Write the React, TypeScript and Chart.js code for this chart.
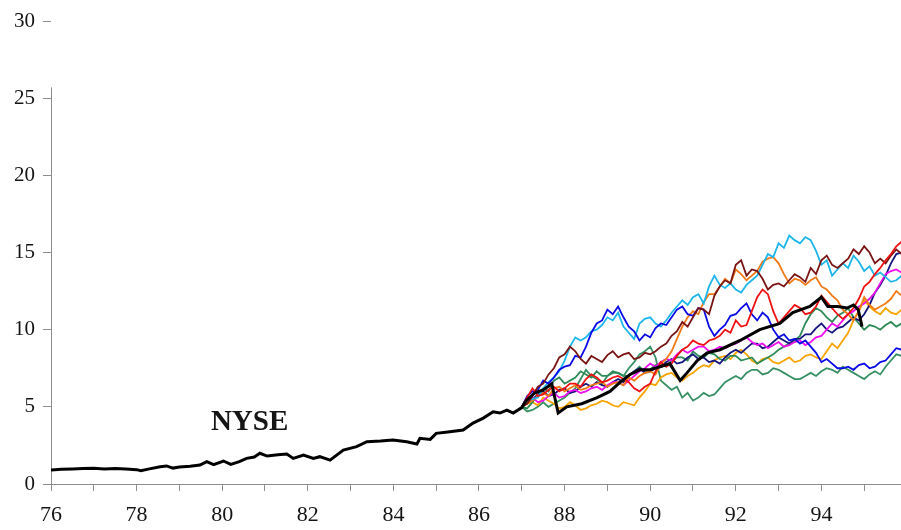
import { useEffect, useRef } from 'react';
import { Chart, registerables } from 'chart.js';

Chart.register(...registerables);

// NYSE index path: [year, value]
const NYSE: [number, number][] = [
  [76.0, 0.9], [76.25, 0.95], [76.5, 0.97], [76.75, 1.0], [77.0, 1.02], [77.25, 0.98], [77.5, 1.0], [77.75, 0.97],
  [78.0, 0.93], [78.1, 0.86], [78.3, 0.98], [78.55, 1.12], [78.7, 1.17], [78.85, 1.03], [79.0, 1.1], [79.25, 1.15],
  [79.48, 1.23], [79.64, 1.45], [79.8, 1.25], [80.03, 1.49], [80.2, 1.27], [80.4, 1.45], [80.57, 1.66], [80.75, 1.75],
  [80.88, 1.99], [81.05, 1.81], [81.3, 1.9], [81.51, 1.94], [81.66, 1.66], [81.9, 1.88], [82.13, 1.66], [82.28, 1.77],
  [82.52, 1.55], [82.83, 2.2], [83.14, 2.42], [83.38, 2.74], [83.7, 2.78], [83.99, 2.85], [84.31, 2.74], [84.55, 2.59],
  [84.62, 2.96], [84.86, 2.89], [85.0, 3.28], [85.32, 3.39], [85.63, 3.5], [85.86, 3.95], [86.1, 4.27], [86.33, 4.68],
  [86.49, 4.6], [86.65, 4.79], [86.8, 4.6], [87.0, 4.95], [87.1, 5.4], [87.3, 5.9], [87.5, 6.1], [87.7, 6.5],
  [87.85, 4.6], [88.05, 5.0], [88.4, 5.2], [88.76, 5.6], [89.06, 6.0], [89.3, 6.6], [89.53, 7.1], [89.76, 7.4],
  [90.0, 7.4], [90.23, 7.6], [90.46, 7.8], [90.7, 6.7], [90.86, 7.2], [91.1, 8.0], [91.33, 8.5], [91.63, 8.7],
  [92.1, 9.3], [92.56, 10.0], [93.03, 10.4], [93.33, 11.1], [93.73, 11.5], [94.0, 12.1], [94.15, 11.5], [94.38, 11.5],
  [94.6, 11.4], [94.75, 11.6], [94.86, 11.3], [94.95, 10.2],
];

// Simulated paths share this year grid (1/8-year steps)
const SIM_YEARS = [
  87, 87.125, 87.25, 87.375, 87.5, 87.625, 87.75, 87.875,
  88, 88.125, 88.25, 88.375, 88.5, 88.625, 88.75, 88.875,
  89, 89.125, 89.25, 89.375, 89.5, 89.625, 89.75, 89.875,
  90, 90.125, 90.25, 90.375, 90.5, 90.625, 90.75, 90.875,
  91, 91.125, 91.25, 91.375, 91.5, 91.625, 91.75, 91.875,
  92, 92.125, 92.25, 92.375, 92.5, 92.625, 92.75, 92.875,
  93, 93.125, 93.25, 93.375, 93.5, 93.625, 93.75, 93.875,
  94, 94.125, 94.25, 94.375, 94.5, 94.625, 94.75, 94.875,
  95, 95.125, 95.25, 95.375, 95.5, 95.625, 95.75, 95.875,
  96,
];

const SIM_BLUE = [
  5.0, 5.7, 6.0, 6.1, 6.7, 6.5, 6.9, 7.4, 7.6, 7.7, 8.3, 8.2, 8.9, 9.8, 10.4, 10.6,
  11.3, 11.0, 11.5, 10.8, 10.2, 9.9, 9.3, 9.7, 9.5, 10.1, 10.4, 10.3, 10.8, 11.3, 11.5, 11.0,
  10.9, 11.4, 11.3, 10.2, 9.6, 10.0, 10.3, 10.9, 11.0, 11.4, 11.7, 11.0, 10.6, 11.1, 10.8, 10.0,
  9.5, 9.7, 9.3, 9.4, 9.1, 9.3, 8.9, 8.5, 7.9, 8.1, 7.8, 7.5, 7.5, 7.6, 7.4, 7.7,
  7.8, 7.5, 7.6, 7.9, 8.0, 8.4, 8.8, 8.7, 9.0,
];
const SIM_CYAN = [
  5.0, 5.4, 5.5, 5.6, 6.2, 6.6, 6.9, 7.3, 8.0, 8.9, 9.5, 9.3, 9.5, 9.9, 10.0, 10.3,
  10.8, 10.6, 11.1, 10.2, 9.8, 9.4, 10.4, 10.7, 10.8, 10.4, 10.2, 10.6, 11.1, 11.5, 11.9, 11.6,
  12.1, 12.3, 11.7, 12.8, 13.5, 12.9, 12.7, 13.0, 12.6, 12.4, 12.9, 13.2, 13.5, 14.2, 14.9, 14.7,
  15.6, 15.3, 16.1, 15.8, 15.6, 16.0, 15.8, 15.1, 14.2, 14.5, 13.5, 13.9, 14.3, 14.0, 14.8, 14.4,
  13.8, 14.1, 13.5, 13.7, 13.4, 13.1, 13.2, 13.5, 13.3,
];
const SIM_MAROON = [
  5.0, 5.2, 5.7, 6.3, 6.5, 7.1, 7.5, 8.2, 8.4, 8.9, 8.6, 8.1, 7.8, 8.3, 8.1, 7.9,
  8.35, 8.6, 8.2, 8.4, 8.5, 8.1, 8.2, 8.5, 8.4, 8.6, 8.9, 9.1, 9.6, 9.9, 10.5, 10.2,
  10.8, 11.4, 11.3, 11.0, 12.2, 12.8, 13.2, 13.0, 14.2, 14.5, 13.5, 13.9, 13.8, 13.3, 12.6, 12.9,
  13.0, 12.8, 13.2, 13.6, 13.4, 13.1, 14.0, 13.6, 14.5, 14.8, 14.2, 14.0, 14.3, 14.6, 15.2, 14.9,
  15.4, 15.0, 14.3, 14.6, 14.3, 14.8, 15.2, 14.9, 15.6,
];
const SIM_DARKORANGE = [
  5.0, 5.3, 5.4, 5.7, 5.9, 5.7, 6.2, 6.3, 6.0, 6.2, 6.4, 6.1, 6.2, 6.4, 6.5, 6.6,
  6.3, 6.5, 6.6, 6.4, 6.9, 6.7, 7.0, 7.2, 7.3, 7.1, 7.8, 8.1, 8.6, 9.4, 10.2, 10.8,
  11.2, 11.0, 11.8, 12.3, 12.3, 12.8, 13.3, 13.0, 13.9, 13.6, 13.2, 13.5, 13.8, 14.4, 14.6, 14.7,
  14.3, 13.6, 13.0, 13.3, 13.2, 12.9, 13.2, 13.4, 12.8, 12.6, 12.2, 11.9, 11.3, 11.0, 10.6, 11.2,
  12.1, 11.6, 11.3, 11.5, 11.7, 12.0, 12.5, 12.2, 12.8,
];
const SIM_GOLD = [
  5.0, 5.2, 5.3, 5.1, 5.6, 5.4, 5.2, 4.9, 5.0, 5.3, 5.1, 4.8, 4.9, 5.1, 5.2, 5.4,
  5.3, 5.1, 5.0, 5.3, 5.2, 5.1, 5.6, 6.0, 6.5, 6.4, 6.9, 7.1, 7.2, 6.9, 6.7, 7.0,
  7.2, 7.5, 7.7, 7.6, 8.0, 8.2, 8.3, 8.1, 8.5, 8.7, 8.4, 8.0, 7.8, 8.1, 8.2, 7.9,
  7.8, 8.0, 8.2, 7.9, 8.0, 8.3, 8.4, 8.2, 8.1, 8.6, 9.1, 8.8, 9.3, 9.8, 10.6, 11.2,
  11.9, 11.5, 11.2, 11.0, 11.4, 11.1, 11.0, 11.3, 11.2,
];
const SIM_RED = [
  5.0, 5.6, 6.2, 5.7, 5.8, 6.1, 6.3, 6.0, 6.2, 6.5, 6.5, 6.3, 6.8, 7.1, 6.9, 6.6,
  6.7, 6.9, 7.0, 6.8, 6.6, 6.2, 6.0, 6.3, 6.5, 7.3, 7.9, 7.6, 7.8, 8.3, 8.7, 8.9,
  9.3, 9.1, 9.0, 9.3, 9.4, 9.6, 10.0, 9.8, 10.6, 10.2, 10.3, 11.2, 12.1, 12.6, 12.3, 11.2,
  10.4, 10.8, 11.2, 11.6, 11.4, 11.0, 11.1, 11.5, 12.2, 11.8, 11.4, 11.0, 10.7, 11.0, 11.4, 12.0,
  12.8, 13.1, 13.6, 14.0, 14.5, 14.9, 15.4, 15.7, 16.2,
];
const SIM_MAGENTA = [
  5.0, 5.3, 5.6, 5.3, 5.4, 5.7, 5.9, 5.6, 5.7, 6.0, 6.1, 5.9, 6.0, 6.2, 6.3, 6.1,
  6.4, 6.6, 6.6, 6.4, 6.7, 7.0, 7.3, 7.5, 7.8, 7.6, 7.9, 8.1, 8.0, 8.4, 8.7, 8.5,
  8.7, 8.9, 8.9, 8.6, 8.7, 8.9, 8.8, 9.0, 9.1, 9.3, 9.5, 9.2, 9.0, 9.1, 8.8, 9.0,
  9.2, 8.9, 9.0, 9.2, 9.3, 9.0, 9.2, 9.5, 9.6, 10.0, 10.4, 10.2, 10.6, 11.0, 11.2, 11.5,
  11.7, 12.0, 12.4, 13.0, 13.6, 13.8, 13.9, 13.7, 14.0,
];
const SIM_GREEN_A = [
  5.0, 4.9, 5.3, 5.8, 6.2, 6.0, 6.7, 6.9, 6.5, 6.7, 6.9, 7.3, 7.1, 6.9, 7.3, 7.0,
  7.0, 7.3, 7.2, 7.0, 7.0, 7.3, 7.6, 7.3, 7.4, 7.7, 7.8, 7.6, 8.0, 8.2, 8.2, 8.0,
  8.6, 8.3, 8.2, 8.5, 8.4, 8.1, 8.0, 8.3, 8.3, 8.0, 8.1, 8.2, 7.8, 8.0, 8.2, 8.4,
  8.7, 8.9, 9.1, 9.3, 9.6, 10.4, 11.0, 11.4, 11.2, 10.8, 10.5, 10.9, 11.1, 11.4, 10.8, 10.4,
  10.0, 10.3, 10.2, 10.0, 10.3, 10.5, 10.2, 10.4, 10.3,
];
const SIM_GREEN_B = [
  5.0, 4.7, 4.8, 5.0, 5.3, 5.0, 5.2, 5.4, 5.6, 5.9, 6.2, 6.8, 7.4, 7.0, 6.8, 6.5,
  7.0, 7.2, 7.2, 7.0, 7.5, 7.9, 8.4, 8.6, 8.9, 8.2, 6.7, 6.4, 6.1, 6.3, 5.6, 5.9,
  5.4, 5.6, 5.9, 5.7, 5.8, 6.2, 6.6, 6.8, 7.0, 6.8, 7.2, 7.4, 7.4, 7.1, 7.2, 7.5,
  7.4, 7.2, 7.0, 6.8, 6.8, 7.0, 7.2, 7.0, 7.3, 7.5, 7.4, 7.2, 7.6, 7.4, 7.2, 7.0,
  6.8, 7.1, 7.3, 7.1, 7.6, 8.0, 8.4, 8.3, 8.6,
];
const SIM_NAVY = [
  5.0, 5.3, 5.5, 5.8, 6.0, 5.7, 5.8, 6.1, 6.2, 5.9, 6.0, 6.3, 6.5, 6.3, 6.6, 6.4,
  6.3, 6.6, 6.8, 6.6, 7.0, 7.3, 7.5, 7.2, 7.3, 7.5, 7.6, 7.9, 8.1, 7.8, 7.9, 8.2,
  8.4, 8.1, 8.2, 7.9, 8.0, 7.8, 8.2, 8.5, 8.7, 8.5, 8.8, 9.1, 9.1, 8.8, 8.9, 9.2,
  9.5, 9.3, 9.1, 9.4, 9.4, 9.7, 9.7, 10.1, 10.4, 10.0, 9.8, 10.1, 10.2, 10.5, 10.8, 10.6,
  11.0, 11.6, 12.4, 12.9, 13.5, 14.3, 14.9, 15.0, 15.2,
];

const SIM_SERIES: { name: string; values: number[]; color: string }[] = [
  { name: 'red', values: SIM_RED, color: '#ee1111' },
  { name: 'maroon', values: SIM_MAROON, color: '#7a1414' },
  { name: 'blue', values: SIM_BLUE, color: '#0a0ae6' },
  { name: 'cyan', values: SIM_CYAN, color: '#1cb6ea' },
  { name: 'darkorange', values: SIM_DARKORANGE, color: '#f27a16' },
  { name: 'magenta', values: SIM_MAGENTA, color: '#ee10ee' },
  { name: 'navy', values: SIM_NAVY, color: '#15157e' },
  { name: 'greenA', values: SIM_GREEN_A, color: '#2e8b57' },
  { name: 'gold', values: SIM_GOLD, color: '#f7a400' },
  { name: 'greenB', values: SIM_GREEN_B, color: '#379063' },
];

const X_MIN = 76;
const X_MAX = 95.86;
const Y_MIN = 0;
const Y_MAX = 30;
const Y_AXIS_TOP = 25.7;
const NYSE_LABEL = 'NYSE';

const AXIS_COLOR = '#8c8c8c';
const TEXT_COLOR = '#151515';
const FONT = '"Liberation Serif", "Times New Roman", serif';

export default function App() {
  const ref = useRef<HTMLCanvasElement | null>(null);

  useEffect(() => {
    document.body.style.margin = '0';
    const canvas = ref.current;
    if (!canvas) return;

    const decor = {
      id: 'decor',
      beforeDatasetsDraw(chart: any) {
        const { ctx, scales, chartArea } = chart;
        const y = scales.y;
        ctx.save();
        ctx.strokeStyle = AXIS_COLOR;
        ctx.lineWidth = 1;
        const px = Math.round(chartArea.left) + 0.5;
        ctx.beginPath();
        ctx.moveTo(px, y.getPixelForValue(Y_AXIS_TOP));
        ctx.lineTo(px, y.getPixelForValue(0));
        ctx.stroke();
        ctx.restore();
      },
      afterDraw(chart: any) {
        const { ctx, scales } = chart;
        ctx.save();
        ctx.font = `bold 29px ${FONT}`;
        ctx.fillStyle = TEXT_COLOR;
        ctx.textAlign = 'center';
        ctx.textBaseline = 'middle';
        ctx.fillText(NYSE_LABEL, scales.x.getPixelForValue(80.64), scales.y.getPixelForValue(4.0));
        ctx.restore();
      },
    };

    const datasets: any[] = [
      {
        label: 'NYSE',
        data: NYSE.map(([x, y]) => ({ x, y })),
        borderColor: '#000000',
        borderWidth: 3,
        pointRadius: 0,
        tension: 0,
      },
      ...SIM_SERIES.map((s) => ({
        label: s.name,
        data: SIM_YEARS.map((x, i) => ({ x, y: s.values[i] })),
        borderColor: s.color,
        borderWidth: 1.8,
        pointRadius: 0,
        tension: 0,
      })),
    ];

    const chart = new Chart(canvas, {
      type: 'line',
      data: { datasets },
      options: {
        animation: false,
        responsive: false,
        devicePixelRatio: 1,
        layout: { padding: { top: 21, left: 0, right: 0, bottom: 0 } },
        plugins: { legend: { display: false }, tooltip: { enabled: false } },
        scales: {
          x: {
            type: 'linear',
            min: X_MIN,
            max: X_MAX,
            border: { display: true, color: AXIS_COLOR, width: 1 },
            grid: { display: true, drawOnChartArea: false, drawTicks: true, tickLength: 7, color: AXIS_COLOR },
            ticks: {
              stepSize: 1,
              autoSkip: false,
              maxRotation: 0,
              includeBounds: false,
              padding: 11,
              color: TEXT_COLOR,
              font: { family: FONT, size: 22 },
              callback: (v: any) => (Number(v) % 2 === 0 ? String(v) : ''),
            },
            afterFit: (s: any) => {
              s.height = 46;
              s.paddingLeft = 0;
              s.paddingRight = 0;
            },
          },
          y: {
            type: 'linear',
            min: Y_MIN,
            max: Y_MAX,
            border: { display: false },
            grid: { display: true, drawOnChartArea: false, drawTicks: true, tickLength: 8, color: AXIS_COLOR },
            ticks: {
              stepSize: 5,
              padding: 8,
              color: TEXT_COLOR,
              font: { family: FONT, size: 21 },
            },
            afterFit: (s: any) => {
              s.width = 51;
              s.paddingTop = 0;
              s.paddingBottom = 0;
            },
          },
        },
      },
      plugins: [decor],
    });

    return () => chart.destroy();
  }, []);

  return (
    <div style={{ width: 901, height: 530, position: 'relative' }}>
      <canvas ref={ref} width={901} height={530} style={{ display: 'block' }} />
    </div>
  );
}
